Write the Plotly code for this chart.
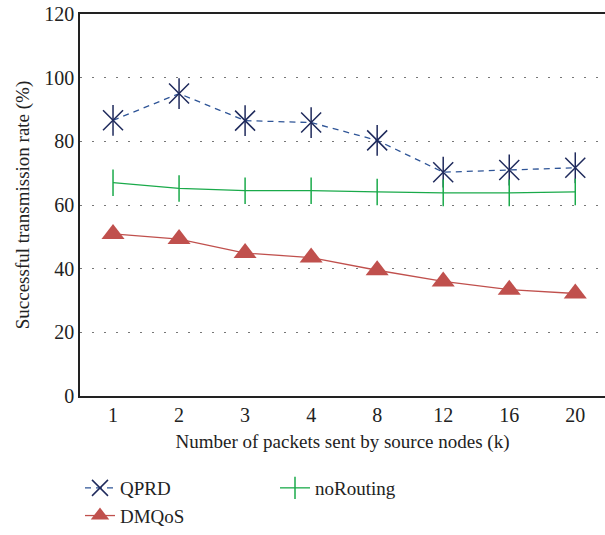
import plotly.graph_objects as go

categories = ["1", "2", "3", "4", "8", "12", "16", "20"]
qprd = [86.6, 95.0, 86.5, 85.9, 80.3, 70.3, 71.0, 71.7]
norouting = [67.0, 65.2, 64.5, 64.5, 64.1, 63.8, 63.8, 64.1]
dmqos = [50.9, 49.3, 44.9, 43.5, 39.5, 36.0, 33.4, 32.2]
y_ticks = [0, 20, 40, 60, 80, 100, 120]

FONT = "Liberation Serif"

fig = go.Figure()
fig.add_trace(go.Scatter(
    x=categories, y=qprd, name="QPRD", mode="lines+markers", legendgroup="q",
    line=dict(color="#2f5597", width=1.3, dash="6px,5px"),
    marker=dict(symbol="x-thin-open", size=20, line=dict(color="#1f2a5c", width=1.5), color="#1f2a5c"),
))
fig.add_trace(go.Scatter(
    x=categories, y=qprd, name="QPRD", mode="markers", legendgroup="q", showlegend=False,
    marker=dict(symbol="line-ns-open", size=22, line=dict(color="#1f2a5c", width=1.5), color="#1f2a5c"),
))
fig.add_trace(go.Scatter(
    x=categories, y=norouting, name="noRouting", mode="lines+markers",
    line=dict(color="#1aaa4a", width=1.3),
    marker=dict(symbol="line-ns-open", size=19, line=dict(color="#1aaa4a", width=1.5), color="#1aaa4a"),
))
fig.add_trace(go.Scatter(
    x=categories, y=dmqos, name="DMQoS", mode="lines+markers",
    line=dict(color="#c0504d", width=1.3),
    marker=dict(symbol="triangle-up", size=20, color="#c0504d"),
))

fig.update_layout(
    width=605, height=535,
    margin=dict(l=80, r=0, t=14, b=138),
    paper_bgcolor="white", plot_bgcolor="white",
    font=dict(family=FONT, size=19, color="#222"),
    showlegend=True,
    legend=dict(orientation="h", x=0.0, xanchor="left", y=-0.19, yanchor="top",
                entrywidth=150, font=dict(family=FONT, size=19), tracegroupgap=0,
                bgcolor="rgba(0,0,0,0)"),
    xaxis=dict(
        type="category", range=[-0.5, 7.45], automargin=False,
        showline=True, linecolor="#222", linewidth=1.5, mirror=True,
        showgrid=False, ticks="", tickfont=dict(family=FONT, size=20),
        title=dict(text="Number of packets sent by source nodes (k)", font=dict(family=FONT, size=19), standoff=10),
        zeroline=False,
    ),
    yaxis=dict(
        range=[0, 120], tickvals=y_ticks, automargin=False,
        showline=True, linecolor="#222", linewidth=1.5,
        showgrid=True, gridcolor="#777", griddash="2px,10px", gridwidth=1,
        ticks="", tickfont=dict(family=FONT, size=20), zeroline=False,
        title=dict(text="Successful transmission rate (%)", font=dict(family=FONT, size=19), standoff=10),
    ),
)

fig.write_html("out.html")
